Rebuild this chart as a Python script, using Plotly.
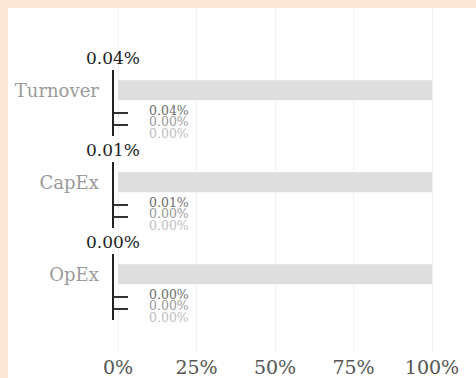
import plotly.graph_objects as go

# EU-taxonomy style KPI breakdown per indicator
categories = ["Turnover", "CapEx", "OpEx"]
total_share = [100, 100, 100]
sub_series = ["aligned", "enabling", "transitional"]
sub_values = [
    [0.04, 0.00, 0.00],
    [0.01, 0.00, 0.00],
    [0.00, 0.00, 0.00],
]
x_ticks = [0, 25, 50, 75, 100]

# ---- page geometry (pixels) ----
W, H = 476, 378
ML, MT, MB, MR = 8, 8, 24, 0
plot_w = W - ML - MR
plot_h = H - MT - MB


def fy(py):
    return 1 - (py - MT) / plot_h


zero_px, full_px = 118, 432
scale = (full_px - zero_px) / 100
x_range = [-(zero_px - ML) / scale, (W - MR - zero_px) / scale]
axis_pos = (112.5 - ML) / plot_w

group_top = [70, 162, 254]
group_h = 66
total_row = 0
sub_rows = [2, 3, 4]
y_range = [4.0, -1.77]

label_colors = ["#6e6e6e", "#9a9a9a", "#c0c0c0"]
serif = "DejaVu Serif"

fig = go.Figure()

# empty trace that holds the full-height grid panel
fig.add_trace(go.Scatter(x=[], y=[], xaxis="x", yaxis="y", showlegend=False))

annotations = []
layout_axes = {}
for i, cat in enumerate(categories):
    yname = f"y{i + 2}"
    fig.add_trace(go.Bar(
        x=[total_share[i]], y=[total_row], orientation="h", width=1.75,
        marker=dict(color="#dedede", line=dict(width=0)),
        xaxis="x", yaxis=yname, showlegend=False, hoverinfo="skip",
    ))
    fig.add_trace(go.Bar(
        x=sub_values[i], y=sub_rows, orientation="h", width=0.18,
        marker=dict(color="#333333", line=dict(width=0)),
        xaxis="x", yaxis=yname, showlegend=False,
    ))
    for j, v in enumerate(sub_values[i]):
        annotations.append(dict(
            text=f"{v:.2f}%", x=v, y=sub_rows[j], xref="x", yref=yname,
            xanchor="left", yanchor="middle", xshift=29, yshift=3,
            showarrow=False, font=dict(family=serif, size=12.5, color=label_colors[j]),
        ))
    annotations.append(dict(
        text=f"{sub_values[i][0]:.2f}%", x=axis_pos, y=fy(group_top[i]),
        xref="paper", yref="paper", xanchor="center", yanchor="bottom",
        yshift=0, showarrow=False, font=dict(family=serif, size=17, color="#1e1e1e"),
    ))
    layout_axes[f"yaxis{i + 2}"] = dict(
        domain=[fy(group_top[i] + group_h), fy(group_top[i])],
        anchor="free", position=axis_pos, range=y_range,
        showline=True, linecolor="#222222", linewidth=2,
        tickmode="array", tickvals=[total_row], ticktext=[cat],
        ticks="inside", ticklen=0,
        tickfont=dict(family=serif, size=18, color="#9a9a9a"),
        ticklabelstandoff=9,
        minor=dict(tickmode="array", tickvals=sub_rows, ticks="inside",
                   ticklen=14, tickwidth=2, tickcolor="#333333", showgrid=False),
        showgrid=False, zeroline=False, fixedrange=True,
    )

fig.update_layout(
    width=W, height=H,
    margin=dict(l=ML, r=MR, t=MT, b=MB, pad=0),
    paper_bgcolor="white", plot_bgcolor="white",
    font=dict(family=serif),
    barmode="overlay", showlegend=False,
    xaxis=dict(
        domain=[0, 1], anchor="y", range=x_range,
        tickmode="array", tickvals=x_ticks, ticktext=[f"{t}%" for t in x_ticks],
        tickfont=dict(family=serif, size=19, color="#555555"),
        showgrid=True, gridcolor="#f3f3f3", gridwidth=1,
        zeroline=False, showline=False, ticks="", fixedrange=True,
    ),
    yaxis=dict(domain=[0, 1], range=[0, 1], visible=False, fixedrange=True),
    annotations=annotations,
    shapes=[
        dict(type="rect", xref="paper", yref="paper",
             x0=-ML / plot_w, x1=0, y0=-MB / plot_h, y1=1 + MT / plot_h,
             fillcolor="#fce6d6", line=dict(width=0), layer="below"),
        dict(type="rect", xref="paper", yref="paper",
             x0=-ML / plot_w, x1=1 + MR / plot_w, y0=1, y1=1 + MT / plot_h,
             fillcolor="#fce6d6", line=dict(width=0), layer="below"),
    ],
    **layout_axes,
)

fig.write_html("out.html")
